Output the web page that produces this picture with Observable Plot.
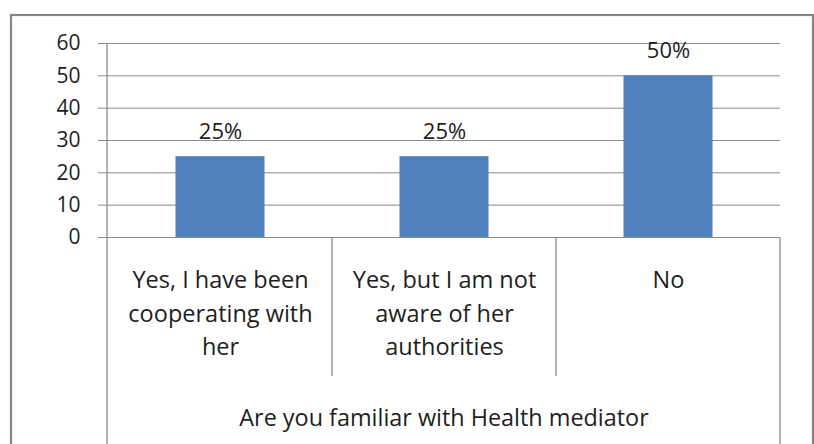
<!DOCTYPE html>
<html><head><meta charset="utf-8">
<script src="https://cdn.jsdelivr.net/npm/d3@7"></script>
<script src="https://cdn.jsdelivr.net/npm/@observablehq/plot@0.6"></script>
<style>body{margin:0;background:#fff} svg{display:block}</style>
</head><body><div id="chart"></div>
<script>
const categories = ["Yes, I have been\ncooperating with\nher", "Yes, but I am not\naware of her\nauthorities", "No"];
const values = [25, 25, 50];
const valueLabels = ["25%", "25%", "50%"];
const yTicks = [0, 10, 20, 30, 40, 50, 60];
const axisTitle = "Are you familiar with Health mediator";

const data = categories.map((c, i) => ({category: c, value: values[i], label: valueLabels[i]}));
const W = 814, H = 444;
const font = "'Open Sans', sans-serif";
const chart = Plot.plot({
  width: W, height: H,
  marginTop: 43, marginBottom: 207, marginLeft: 107, marginRight: 34,
  style: {fontFamily: font, background: "#fff", overflow: "visible"},
  x: {domain: categories, type: "band", padding: 0, axis: null},
  y: {domain: [0, 60], ticks: yTicks, axis: null},
  marks: [
    Plot.ruleY(yTicks, {y: d => d, stroke: "#8c8c8c", strokeOpacity: 1, insetLeft: -9}),
    Plot.barY(data, {x: "category", y: "value", fill: "#4F81BD", insetLeft: 67.5, insetRight: 67.5}),
    Plot.text(data, {x: "category", y: "value", text: "label", dy: -25, fontSize: 22, fill: "#1e1e1e"}),
    Plot.text(yTicks, {y: d => d, text: d => String(d), frameAnchor: "left", textAnchor: "end", dx: -27, fontSize: 21, fill: "#1e1e1e"}),
    Plot.text(data, {x: "category", y: () => 0, text: "category", lineAnchor: "top", dy: 27, fontSize: 23.5, lineHeight: 1.42, fill: "#1e1e1e"}),
    Plot.text([axisTitle], {frameAnchor: "bottom", text: d => d, lineAnchor: "middle", dy: 181, fontSize: 23.4, fill: "#1e1e1e"})
  ]
});

const svg = d3.select(chart);
const xs = chart.scale("x");
const ys = chart.scale("y");
const [x0, x1] = xs.range;
const yTop = ys.apply(60), yZero = ys.apply(0);
const g = svg.append("g").attr("stroke", "#8c8c8c").attr("stroke-width", 1.3);
// axis line
g.append("line").attr("x1", x0).attr("x2", x0).attr("y1", yTop).attr("y2", H);
// right edge of category table
g.append("line").attr("x1", x1).attr("x2", x1).attr("y1", yZero).attr("y2", H);
// interior separators
categories.slice(1).forEach(c => {
  const x = xs.apply(c);
  g.append("line").attr("x1", x).attr("x2", x).attr("y1", yZero).attr("y2", yZero + 139);
});
// outer frame
svg.append("rect").attr("x", 11).attr("y", 15).attr("width", 802).attr("height", H)
  .attr("fill", "none").attr("stroke", "#858585").attr("stroke-width", 2.2);

document.getElementById("chart").appendChild(chart);
</script>
</body></html>
